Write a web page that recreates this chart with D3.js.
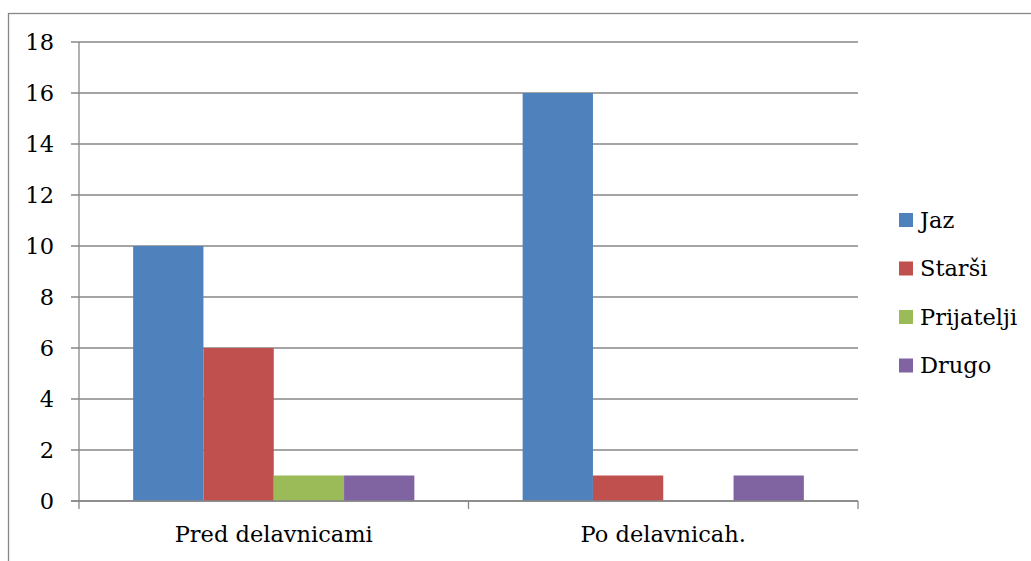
<!DOCTYPE html>
<html><head><meta charset="utf-8">
<script src="https://cdn.jsdelivr.net/npm/d3@7"></script>
<style>body{margin:0;background:#fff}svg{display:block}</style>
</head><body>
<svg id="c" width="1031" height="561"></svg>
<script>
const categories = ["Pred delavnicami", "Po delavnicah."];
const seriesNames = ["Jaz", "Starši", "Prijatelji", "Drugo"];
const seriesValues = [
  [10, 16],
  [6, 1],
  [1, 0],
  [1, 1]
];
const colors = ["#4F81BD", "#C0504D", "#9BBB59", "#8064A2"];
const yTicks = [0, 2, 4, 6, 8, 10, 12, 14, 16, 18];

(function () {
const svg = d3.select("#c");
const font = "'DejaVu Serif', serif";
const fs = 22.5;
const gridColor = "#878787";

svg.append("rect").attr("x", 8.5).attr("y", 13.5).attr("width", 1100).attr("height", 700)
  .attr("fill", "none").attr("stroke", gridColor).attr("stroke-width", 1.3);

const pL = 79, pR = 858, pT = 42, pB = 501;
const x0 = d3.scaleBand().domain(categories).range([pL, pR]).paddingInner(0).paddingOuter(0);
const x1 = d3.scaleBand().domain(seriesNames).range([0, x0.bandwidth()]).paddingOuter(0.77).paddingInner(0);
const y = d3.scaleLinear().domain([0, 18]).range([pB, pT]);

svg.append("g").selectAll("line").data(yTicks).join("line")
  .attr("x1", pL - 8).attr("x2", pR).attr("y1", d => y(d)).attr("y2", d => y(d))
  .attr("stroke", gridColor).attr("stroke-width", 1.3);

const groups = svg.append("g").selectAll("g").data(categories).join("g")
  .attr("transform", c => `translate(${x0(c)},0)`);
groups.selectAll("rect").data((c, ci) => seriesNames.map((s, si) => ({s, si, v: seriesValues[si][ci]})))
  .join("rect")
  .attr("x", d => x1(d.s)).attr("width", x1.bandwidth())
  .attr("y", d => y(d.v)).attr("height", d => y(0) - y(d.v))
  .attr("fill", d => colors[d.si]);

svg.append("line").attr("x1", pL).attr("x2", pL).attr("y1", pT).attr("y2", pB + 1)
  .attr("stroke", gridColor).attr("stroke-width", 1.3);
svg.append("line").attr("x1", pL - 8).attr("x2", pR).attr("y1", pB).attr("y2", pB)
  .attr("stroke", gridColor).attr("stroke-width", 1.3);
const bounds = [pL, x0(categories[1]), pR];
svg.append("g").selectAll("line").data(bounds).join("line")
  .attr("x1", d => d).attr("x2", d => d).attr("y1", pB).attr("y2", pB + 8)
  .attr("stroke", gridColor).attr("stroke-width", 1.3);

svg.append("g").selectAll("text").data(yTicks).join("text")
  .attr("x", 54).attr("y", d => y(d)).attr("dy", "0.35em").attr("text-anchor", "end")
  .attr("font-family", font).attr("font-size", fs).attr("fill", "#000").text(d => d);

svg.append("g").selectAll("text").data(categories).join("text")
  .attr("x", c => x0(c) + x0.bandwidth() / 2).attr("y", 542).attr("text-anchor", "middle")
  .attr("font-family", font).attr("font-size", fs).attr("fill", "#000").text(c => c);

const lg = svg.append("g").selectAll("g").data(seriesNames).join("g")
  .attr("transform", (d, i) => `translate(899,${220 + i * 48.5})`);
lg.append("rect").attr("x", 0).attr("y", -7).attr("width", 14).attr("height", 14)
  .attr("fill", (d, i) => colors[i]);
lg.append("text").attr("x", 21).attr("y", 0).attr("dy", "0.35em")
  .attr("font-family", font).attr("font-size", fs).attr("fill", "#000").text(d => d);
})();
</script>
</body></html>
